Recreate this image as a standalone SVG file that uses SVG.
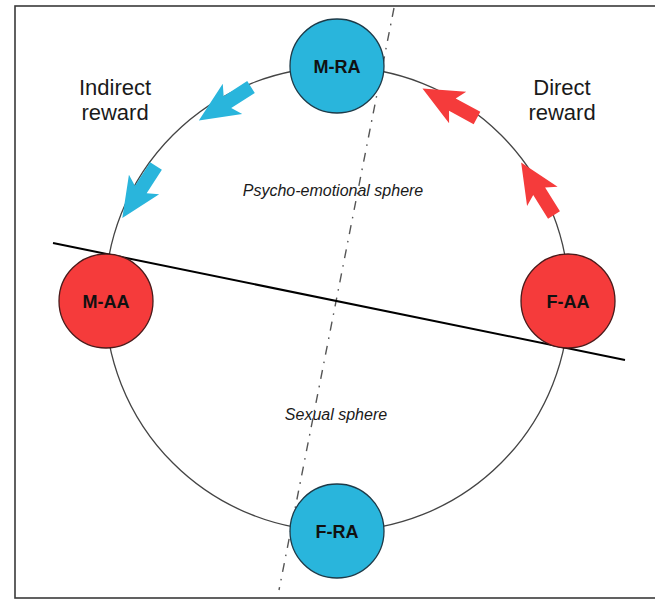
<svg xmlns="http://www.w3.org/2000/svg" width="655" height="599" viewBox="0 0 655 599">
<style>
.frame{fill:none;stroke:#3a3a3a;stroke-width:1.6}
.ring{fill:none;stroke:#444;stroke-width:1.3}
.divider{stroke:#000;stroke-width:2;fill:none}
.axis{stroke:#555;stroke-width:1.4;fill:none;stroke-dasharray:9 7 1.6 7}
.blue{fill:#29b5dc;stroke:#1d3a48;stroke-width:1.3}
.red{fill:#f53b3b;stroke:#4a1a1a;stroke-width:1.3}
.lbl{font-family:"Liberation Sans",Arial,sans-serif;font-weight:bold;font-size:18px;fill:#111;text-anchor:middle}
.big{font-family:"Liberation Sans",Arial,sans-serif;font-size:22px;fill:#1a1a1a;text-anchor:middle}
.sph{font-family:"Liberation Sans",Arial,sans-serif;font-style:italic;font-size:16px;fill:#1a1a1a;text-anchor:middle}
.ab{fill:#29b5dc}
.ar{fill:#f53b3b}
</style>
<defs>
<path id="arr" d="M0,-7 L28,-7 L22,-18 L62,0 L22,18 L28,7 L0,7 Z"/>
</defs>
<rect class="frame" x="15" y="6" width="660" height="592"/>
<g id="connectors">
<circle class="ring" cx="337" cy="299" r="232"/>
<line class="axis" x1="394" y1="8" x2="279" y2="590"/>
<line class="divider" x1="53" y1="243" x2="625" y2="360"/>
<use href="#arr" class="ab" transform="translate(251,87) rotate(147.3)"/>
<use href="#arr" class="ab" transform="translate(156,166) rotate(122.9)"/>
<use href="#arr" class="ar" transform="translate(477,118) rotate(-151.6)"/>
<use href="#arr" class="ar" transform="translate(554,215) rotate(-122)"/>
</g>
<g id="M-RA"><circle class="blue" cx="337" cy="66" r="47"/><text class="lbl" x="337" y="73">M-RA</text></g>
<g id="F-RA"><circle class="blue" cx="337" cy="531" r="47"/><text class="lbl" x="337" y="538">F-RA</text></g>
<g id="M-AA"><circle class="red" cx="106" cy="301" r="47"/><text class="lbl" x="106" y="308">M-AA</text></g>
<g id="F-AA"><circle class="red" cx="568" cy="301" r="47"/><text class="lbl" x="568" y="308">F-AA</text></g>
<g id="labels">
<text class="big" x="115" y="95">Indirect</text>
<text class="big" x="115" y="120">reward</text>
<text class="big" x="562" y="95">Direct</text>
<text class="big" x="562" y="120">reward</text>
<text class="sph" x="333" y="196">Psycho-emotional sphere</text>
<text class="sph" x="336" y="420">Sexual sphere</text>
</g>
</svg>
